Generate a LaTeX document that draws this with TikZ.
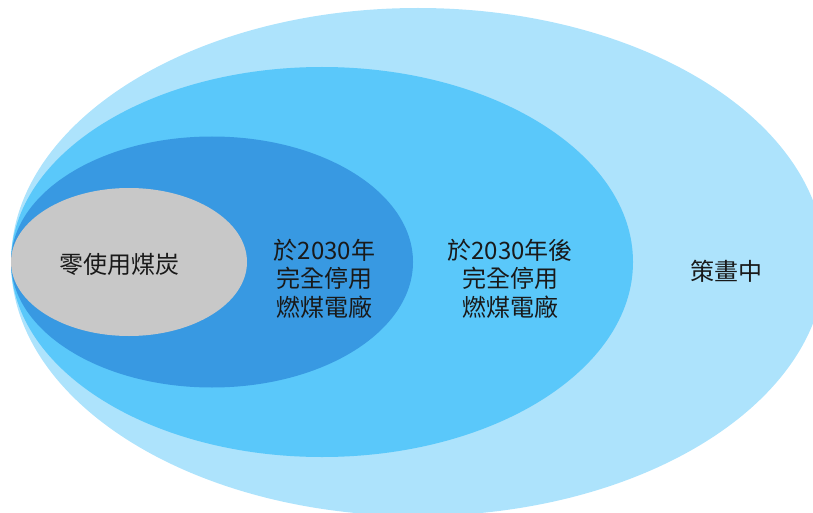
\documentclass[tikz,border=0pt]{standalone}
\usepackage{fontspec}
\setmainfont{Noto Sans CJK TC}
\usetikzlibrary{shapes.geometric}
\definecolor{outerBlue}{RGB}{173,227,252}
\definecolor{midBlue}{RGB}{90,200,250}
\definecolor{innerBlue}{RGB}{56,153,226}
\definecolor{coreGrey}{RGB}{200,200,200}
\def\fScale{\fontsize{24}{28.5}\selectfont}
\def\leftEdge{11}
\tikzset{ring/.style={ellipse,draw=none,inner sep=0,outer sep=0}}
\tikzset{lbl/.style={align=center,font=\fScale,text=black!90,inner sep=0}}

\begin{document}
\begin{tikzpicture}[x=1pt,y=-1pt]\useasboundingbox (0,0) rectangle (813,513);
\node[ring,fill=outerBlue,minimum width=814pt,minimum height=508pt] (e1) at (\leftEdge+407,262) {};
\node[ring,fill=midBlue,minimum width=622pt,minimum height=390pt] (e2) at (\leftEdge+311,262) {};
\node[ring,fill=innerBlue,minimum width=402pt,minimum height=251pt] (e3) at (\leftEdge+201,262) {};
\node[ring,fill=coreGrey,minimum width=236pt,minimum height=148pt] (e4) at (\leftEdge+118,262) {};
\node[lbl] (t4) at (119,264) {零使用煤炭};
\node[lbl] (t3) at (324.5,278.5) {於2030年\\完全停用\\燃煤電廠};
\node[lbl] (t2) at (510,278.5) {於2030年後\\完全停用\\燃煤電廠};
\node[lbl] (t1) at (726,271) {策畫中};
\end{tikzpicture}
\end{document}
